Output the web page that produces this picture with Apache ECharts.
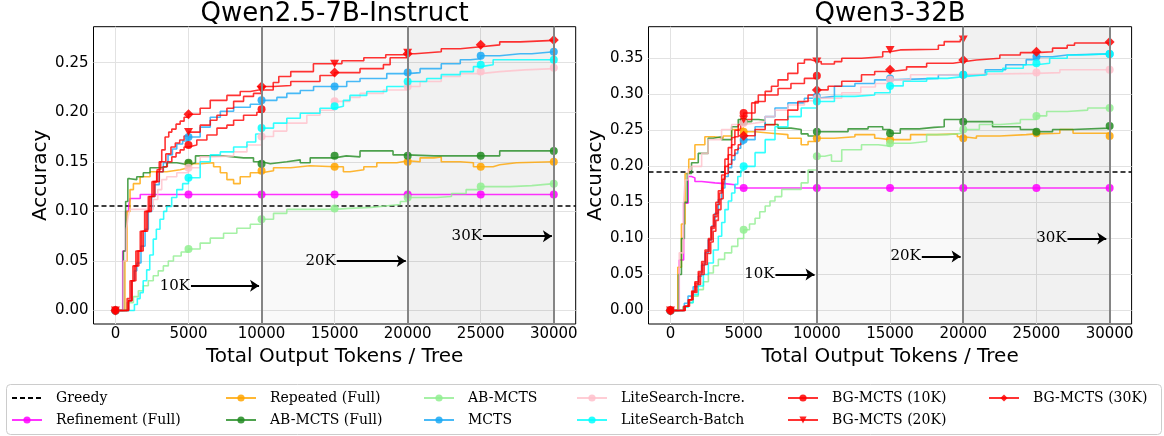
<!DOCTYPE html>
<html><head><meta charset="utf-8">
<script src="https://cdn.jsdelivr.net/npm/echarts@6/dist/echarts.min.js"></script>
<style>html,body{margin:0;padding:0;background:#fff}#c{width:1164px;height:436px}</style>
</head><body><div id="c"></div>
<script>
// ---------- data ----------
const titles = ['Qwen2.5-7B-Instruct', 'Qwen3-32B'];
const xTicks = [0, 5000, 10000, 15000, 20000, 25000, 30000];
const yTicksL = [0, 0.05, 0.10, 0.15, 0.20, 0.25];
const yTicksR = [0, 0.05, 0.10, 0.15, 0.20, 0.25, 0.30, 0.35];
const marks = [0, 5000, 10000, 15000, 20000, 25000, 30000];
const greedyL = 0.1055;
const greedyR = 0.192;

const L_refine = [[0,0],[300,0],[500,0.06],[700,0.1],[900,0.105],[1000,0.113],[1700,0.117],[5000,0.117],[10000,0.117],[15000,0.117],[20000,0.117],[25000,0.117],[30000,0.117]];
const L_repeated = [[0,0],[500,0],[650,0.05],[800,0.1],[1000,0.122],[1230,0.128],[1690,0.135],[2370,0.14],[3510,0.142],[4430,0.144],[5000,0.148],[5800,0.149],[6720,0.145],[7180,0.139],[7630,0.132],[8090,0.128],[8540,0.135],[9230,0.139],[10000,0.141],[10820,0.144],[12000,0.146],[13300,0.145],[15000,0.145],[15600,0.140],[16050,0.142],[17000,0.145],[17890,0.149],[19260,0.151],[20000,0.150],[20850,0.154],[21800,0.155],[22300,0.150],[23600,0.149],[24500,0.145],[25000,0.145],[25850,0.147],[26300,0.149],[27450,0.150],[30000,0.150]];
const L_abFull = [[0,0],[400,0],[550,0.06],[700,0.11],[850,0.133],[1000,0.132],[1460,0.135],[1910,0.139],[2370,0.144],[3060,0.145],[3510,0.149],[4200,0.147],[5000,0.149],[5480,0.156],[6490,0.156],[7400,0.154],[8770,0.154],[9450,0.150],[10000,0.148],[10600,0.150],[11730,0.152],[12650,0.149],[13330,0.154],[14000,0.154],[15000,0.156],[15800,0.155],[16740,0.161],[18800,0.161],[19000,0.157],[20000,0.156],[21800,0.156],[25000,0.156],[26300,0.161],[30000,0.161]];
const L_ab = [[0,0],[550,0],[800,0.008],[1230,0.014],[1570,0.02],[1910,0.025],[2250,0.03],[2590,0.035],[2930,0.04],[3280,0.045],[3620,0.05],[3970,0.055],[4500,0.059],[5000,0.062],[5800,0.068],[6490,0.073],[7400,0.078],[8310,0.083],[9230,0.087],[10000,0.092],[10820,0.098],[11730,0.102],[13100,0.102],[15000,0.103],[16000,0.104],[17500,0.106],[18800,0.107],[19500,0.110],[20000,0.114],[21000,0.114],[22000,0.115],[23000,0.118],[24000,0.122],[25000,0.125],[27000,0.126],[28500,0.128],[30000,0.128]];
const L_mcts = [[0,0],[700,0],[900,0.01],[1100,0.03],[1300,0.04],[1460,0.048],[1750,0.065],[2030,0.082],[2250,0.1],[2480,0.115],[2700,0.127],[3000,0.14],[3280,0.149],[3600,0.157],[3900,0.163],[4200,0.168],[4600,0.171],[5000,0.175],[5800,0.185],[6490,0.195],[7180,0.201],[8090,0.205],[9230,0.208],[10000,0.212],[11050,0.215],[11730,0.219],[12650,0.222],[13560,0.226],[15000,0.226],[15830,0.231],[16740,0.234],[18570,0.239],[20000,0.240],[20850,0.244],[22300,0.249],[23600,0.253],[24300,0.254],[25000,0.257],[26300,0.259],[27700,0.259],[28500,0.261],[30000,0.261]];
const L_liteIncre = [[0,0],[400,0],[550,0.05],[750,0.082],[880,0.095],[1000,0.102],[2140,0.102],[2590,0.112],[2900,0.122],[3170,0.132],[3510,0.135],[4200,0.139],[5000,0.144],[5800,0.155],[6490,0.156],[8090,0.160],[9000,0.167],[10000,0.1755],[10820,0.181],[11730,0.189],[13100,0.197],[14000,0.202],[15000,0.211],[16050,0.215],[16740,0.219],[18340,0.2225],[20000,0.226],[20850,0.231],[22300,0.236],[23600,0.239],[25000,0.241],[26300,0.2427],[28000,0.244],[30000,0.245]];
const L_liteBatch = [[0,0],[1000,0],[1300,0.006],[1500,0.012],[1690,0.018],[1900,0.03],[2140,0.041],[2350,0.056],[2590,0.072],[2800,0.082],[3050,0.092],[3300,0.1],[3510,0.105],[3850,0.114],[4200,0.122],[4600,0.128],[5000,0.134],[5800,0.15],[6490,0.157],[7180,0.16],[8090,0.165],[9000,0.17],[9600,0.178],[10000,0.184],[10820,0.189],[11730,0.194],[12650,0.199],[14000,0.204],[15000,0.206],[15600,0.212],[16050,0.217],[17200,0.221],[18570,0.226],[20000,0.231],[21300,0.234],[22300,0.238],[23600,0.241],[24500,0.246],[25000,0.248],[25850,0.253],[30000,0.253]];
const L_bg10 = [[0,0],[700,0],[900,0.01],[1150,0.03],[1400,0.045],[1600,0.06],[1900,0.08],[2200,0.1],[2450,0.115],[2700,0.13],[3000,0.14],[3260,0.145],[3550,0.15],[3860,0.155],[4150,0.159],[4430,0.162],[4700,0.165],[5000,0.167],[5570,0.172],[6260,0.177],[6950,0.184],[7630,0.187],[8090,0.192],[8770,0.197],[9680,0.2],[10000,0.203]];
const L_bg20 = [[0,0],[700,0],[900,0.01],[1100,0.03],[1300,0.045],[1500,0.06],[1800,0.08],[2100,0.1],[2350,0.115],[2600,0.13],[2850,0.142],[3100,0.15],[3450,0.158],[3800,0.165],[4100,0.169],[4400,0.172],[4700,0.176],[5000,0.18],[5800,0.187],[6490,0.192],[6950,0.197],[7630,0.204],[8090,0.211],[8770,0.216],[9450,0.219],[10000,0.2225],[10800,0.23],[11180,0.236],[12000,0.241],[13550,0.249],[15000,0.249],[15500,0.252],[17000,0.255],[18500,0.258],[20000,0.26]];
const L_bg30 = [[0,0],[600,0],[800,0.012],[1000,0.03],[1200,0.045],[1400,0.06],[1700,0.08],[2000,0.1],[2250,0.115],[2500,0.13],[2825,0.14],[3000,0.15],[3170,0.162],[3400,0.175],[3650,0.18],[3860,0.183],[4150,0.188],[4430,0.191],[4700,0.195],[5000,0.198],[5800,0.204],[6490,0.212],[7630,0.217],[8540,0.221],[9230,0.223],[10000,0.226],[10820,0.227],[12000,0.231],[14000,0.237],[15000,0.240],[16740,0.244],[18340,0.248],[18800,0.255],[20000,0.259],[20500,0.261],[22300,0.264],[23600,0.266],[25000,0.268],[26300,0.271],[27700,0.2725],[30000,0.273]];

const R_refine = [[0,0],[300,0],[600,0.07],[900,0.149],[1210,0.186],[1440,0.184],[1670,0.179],[2130,0.177],[3040,0.176],[3720,0.1745],[4400,0.17],[5000,0.17],[10000,0.17],[15000,0.17],[20000,0.17],[25000,0.17],[30000,0.17]];
const R_repeated = [[0,0],[250,0],[500,0.06],[750,0.12],[1000,0.19],[1250,0.21],[1670,0.23],[2350,0.241],[3000,0.239],[3600,0.242],[4180,0.251],[4630,0.253],[5000,0.248],[5780,0.246],[6900,0.244],[8020,0.239],[8930,0.23],[9400,0.2345],[10000,0.239],[11200,0.241],[12600,0.244],[13950,0.239],[14200,0.237],[15000,0.237],[16400,0.244],[18200,0.245],[19600,0.241],[20000,0.239],[20900,0.242],[22500,0.244],[24300,0.245],[25000,0.246],[26600,0.251],[27500,0.246],[30000,0.242]];
const R_abFull = [[0,0],[200,0],[550,0.05],[750,0.1],[950,0.15],[1150,0.19],[1440,0.205],[1900,0.218],[2580,0.239],[2920,0.241],[3490,0.237],[4180,0.255],[4630,0.265],[5000,0.262],[5550,0.265],[6000,0.264],[6470,0.258],[7350,0.253],[8230,0.251],[8930,0.245],[9400,0.242],[10000,0.248],[10990,0.248],[12130,0.252],[13500,0.255],[14500,0.251],[15000,0.246],[15700,0.252],[17000,0.254],[18000,0.255],[18700,0.265],[20000,0.262],[20900,0.262],[22000,0.255],[23900,0.251],[25000,0.248],[26100,0.251],[27500,0.253],[30000,0.256]];
const R_ab = [[0,0],[500,0],[850,0.005],[1210,0.011],[1550,0.02],[1900,0.029],[2250,0.04],[2590,0.052],[2930,0.062],[3270,0.071],[3700,0.08],[4180,0.089],[4600,0.1],[5000,0.112],[5400,0.12],[5780,0.128],[6100,0.137],[6470,0.145],[6800,0.152],[7140,0.158],[7600,0.168],[8500,0.168],[8930,0.177],[9400,0.195],[10000,0.214],[10540,0.216],[11000,0.207],[11700,0.223],[13050,0.23],[14200,0.228],[15000,0.232],[16400,0.2345],[17500,0.244],[18900,0.246],[20000,0.251],[21100,0.258],[22500,0.26],[23900,0.265],[25000,0.27],[25700,0.276],[27100,0.278],[28500,0.281],[30000,0.281]];
const R_mcts = [[0,0],[700,0],[950,0.01],[1200,0.02],[1550,0.033],[1900,0.0475],[2130,0.063],[2360,0.08],[2580,0.098],[2810,0.117],[3040,0.135],[3270,0.154],[3500,0.17],[3720,0.186],[3950,0.198],[4180,0.209],[4400,0.218],[4600,0.225],[4800,0.231],[5000,0.237],[5780,0.255],[6470,0.269],[7140,0.281],[8020,0.288],[9150,0.2945],[10000,0.297],[11200,0.311],[12600,0.315],[13950,0.32],[15000,0.322],[18300,0.327],[20000,0.327],[21500,0.334],[22900,0.341],[24300,0.348],[25000,0.352],[26100,0.3545],[27100,0.356],[30000,0.356]];
const R_liteIncre = [[0,0],[300,0],[600,0.08],[900,0.15],[1000,0.181],[1210,0.196],[1440,0.2],[2130,0.218],[2580,0.237],[3490,0.251],[4180,0.258],[5000,0.26],[5780,0.262],[6470,0.269],[7140,0.278],[8020,0.285],[9150,0.291],[10000,0.2945],[11700,0.302],[13000,0.31],[14000,0.315],[15000,0.32],[16400,0.327],[18700,0.329],[25000,0.33],[26600,0.334],[30000,0.334]];
const R_liteBatch = [[0,0],[700,0],[950,0.005],[1210,0.011],[1550,0.022],[1900,0.034],[2250,0.05],[2590,0.066],[2930,0.084],[3270,0.103],[3500,0.122],[3720,0.14],[3950,0.152],[4180,0.163],[4400,0.175],[4600,0.186],[4800,0.194],[5000,0.2],[5780,0.219],[6470,0.237],[7140,0.255],[8020,0.269],[8930,0.281],[10000,0.29],[11200,0.297],[12600,0.299],[13950,0.302],[15000,0.3116],[15900,0.318],[17500,0.322],[18900,0.3245],[20000,0.327],[21600,0.3315],[22700,0.336],[24100,0.341],[25000,0.343],[25900,0.35],[27100,0.3545],[28000,0.356],[30000,0.356]];
const R_bg10 = [[0,0],[600,0],[900,0.006],[1210,0.015],[1450,0.027],[1670,0.04],[1900,0.054],[2130,0.068],[2360,0.084],[2590,0.1],[2760,0.116],[2930,0.133],[3100,0.15],[3270,0.166],[3500,0.188],[3720,0.21],[3950,0.226],[4180,0.24],[4400,0.25],[4630,0.258],[4800,0.266],[5000,0.274],[5780,0.29],[6470,0.299],[7350,0.308],[8230,0.315],[9150,0.322],[10000,0.3255]];
const R_bg20 = [[0,0],[700,0],[1000,0.006],[1250,0.015],[1480,0.026],[1700,0.038],[1950,0.052],[2200,0.066],[2420,0.082],[2650,0.098],[2820,0.114],[3000,0.13],[3180,0.147],[3350,0.163],[3540,0.182],[3720,0.2],[3950,0.216],[4180,0.23],[4400,0.241],[4630,0.25],[4800,0.258],[5000,0.265],[5550,0.288],[6000,0.299],[6470,0.304],[6900,0.311],[7350,0.32],[8020,0.329],[8700,0.343],[9150,0.348],[9600,0.3453],[10000,0.3453],[10300,0.342],[11200,0.3453],[11700,0.35],[13050,0.352],[14500,0.359],[15000,0.3615],[15700,0.3624],[18300,0.368],[18700,0.373],[19800,0.376],[20000,0.376]];
const R_bg30 = [[0,0],[700,0],[1000,0.006],[1300,0.015],[1550,0.025],[1800,0.036],[2050,0.05],[2300,0.064],[2520,0.079],[2750,0.095],[2920,0.11],[3100,0.125],[3270,0.14],[3450,0.155],[3600,0.172],[3720,0.19],[3950,0.203],[4180,0.215],[4400,0.223],[4630,0.23],[4800,0.236],[5000,0.2424],[5780,0.251],[6470,0.2576],[7140,0.2646],[8020,0.278],[8700,0.29],[9400,0.299],[10000,0.306],[10770,0.311],[11700,0.318],[13050,0.327],[13950,0.3315],[15000,0.334],[16130,0.338],[17500,0.343],[19300,0.345],[20000,0.3476],[20900,0.35],[22500,0.3545],[23900,0.3577],[25000,0.359],[26100,0.364],[27100,0.368],[27600,0.371],[30000,0.3726]];

// ---------- styling ----------
const SANS = 'DejaVu Sans';
const SERIF = 'DejaVu Serif';
const DIAMOND = 'path://M5,0L10,5L5,10L0,5Z';
const TRI_DOWN = 'path://M0,0L10,0L5,8.66Z';

const defs = [
  {name:'Refinement (Full)', color:'#ff00ff', sym:'circle', size:8, L:L_refine, R:R_refine},
  {name:'Repeated (Full)', color:'#ffa500', sym:'circle', size:8, L:L_repeated, R:R_repeated},
  {name:'AB-MCTS (Full)', color:'#228b22', sym:'circle', size:8, L:L_abFull, R:R_abFull},
  {name:'AB-MCTS', color:'#90ee90', sym:'circle', size:8, L:L_ab, R:R_ab},
  {name:'MCTS', color:'#1aa9f5', sym:'circle', size:8, L:L_mcts, R:R_mcts},
  {name:'LiteSearch-Incre.', color:'#ffc0cb', sym:'circle', size:8, L:L_liteIncre, R:R_liteIncre},
  {name:'LiteSearch-Batch', color:'#00ffff', sym:'circle', size:8, L:L_liteBatch, R:R_liteBatch},
  {name:'BG-MCTS (10K)', color:'#ff0000', sym:'circle', size:8, L:L_bg10, R:R_bg10},
  {name:'BG-MCTS (20K)', color:'#ff0000', sym:TRI_DOWN, size:[9,8], L:L_bg20, R:R_bg20},
  {name:'BG-MCTS (30K)', color:'#ff0000', sym:DIAMOND, size:[10,10], L:L_bg30, R:R_bg30}
];

const grids = [
  {left:93.5, top:26.7, width:482.2, height:297.3, show:true, borderColor:'#000', borderWidth:1, backgroundColor:'transparent', containLabel:false, outerBoundsMode:'none'},
  {left:648.5, top:26.7, width:483.1, height:297.3, show:true, borderColor:'#000', borderWidth:1, backgroundColor:'transparent', containLabel:false, outerBoundsMode:'none'}
];

function xAxis(i){
  return {type:'value', gridIndex:i, min:-1500, max:31500,
    axisLine:{show:false, onZero:false}, axisTick:{show:false, customValues:xTicks},
    axisLabel:{customValues:xTicks, margin:3, fontSize:15, color:'#000', fontFamily:SANS, formatter:v=>String(v)},
    splitLine:{show:true, lineStyle:{color:'#e2e2e2', width:1}},
    name:'Total Output Tokens / Tree', nameLocation:'middle', nameGap:20,
    nameTextStyle:{fontSize:20, color:'#000', fontFamily:SANS}};
}
function yAxis(i, min, max, ticks){
  return {type:'value', gridIndex:i, min:min, max:max,
    axisLine:{show:false, onZero:false}, axisTick:{show:false, customValues:ticks},
    axisLabel:{customValues:ticks, margin:5, fontSize:15, color:'#000', fontFamily:SANS, formatter:v=>v.toFixed(2)},
    splitLine:{show:true, lineStyle:{color:'#e2e2e2', width:1}},
    name:'Accuracy', nameLocation:'middle', nameGap:40,
    nameTextStyle:{fontSize:20, color:'#000', fontFamily:SANS}};
}

const series = [];
function helpers(i, ann){
  series.push({type:'line', xAxisIndex:i, yAxisIndex:i, data:[], silent:true, z:1,
    markArea:{silent:true, data:[
      [{xAxis:10000, itemStyle:{color:'rgba(0,0,0,0.022)'}},{xAxis:20000}],
      [{xAxis:20000, itemStyle:{color:'rgba(0,0,0,0.055)'}},{xAxis:30000}]
    ]},
    markLine:{silent:true, symbol:'none', label:{show:false}, animation:false,
      lineStyle:{color:'#858585', width:2, type:'solid'},
      data:[{xAxis:10000},{xAxis:20000},{xAxis:30000}]}
  });
  series.push({type:'line', xAxisIndex:i, yAxisIndex:i, data:[], silent:true, z:1,
    markLine:{silent:true, symbol:['none','arrow'], symbolSize:9, animation:false,
      lineStyle:{color:'#000', width:1.8, type:'solid'},
      label:{show:true, position:'start', distance:1, color:'#000', fontFamily:SERIF, fontSize:15, formatter:p=>p.name},
      data: ann.map(a=>[{name:a[0], coord:[a[1], a[3]]},{coord:[a[2], a[3]]}])}
  });
}
helpers(0, [['10K',5170,9830,0.025],['20K',15150,19870,0.05],['30K',25150,29870,0.075]]);
helpers(1, [['10K',7170,9840,0.05],['20K',17170,19820,0.075],['30K',27120,29770,0.10]]);

[0,1].forEach(i=>{
  const g = i===0 ? greedyL : greedyR;
  series.push({name:'Greedy', type:'line', xAxisIndex:i, yAxisIndex:i, symbol:'none',
    data:[[-1500,g],[31500,g]], lineStyle:{color:'#000', width:1.5, type:[5,3]}, itemStyle:{color:'#000'}, z:3});
  defs.forEach(d=>{
    series.push({name:d.name, type:'line', xAxisIndex:i, yAxisIndex:i, step:'end',
      data: i===0 ? d.L : d.R,
      symbol:d.sym, showSymbol:true,
      symbolSize:(v)=> marks.indexOf(v[0])>=0 ? d.size : 0,
      lineStyle:{color:d.color, width:1.6, opacity:0.8},
      itemStyle:{color:d.color, opacity:0.85},
      emphasis:{disabled:true}, z:3});
  });
});

const legTxt = {fontFamily:SERIF, fontSize:14, color:'#000', lineHeight:16, padding:[0,0,0,9]};
const cols = [
  {x:11, items:[{name:'Greedy', itemStyle:{opacity:0}}, 'Refinement (Full)']},
  {x:225, items:['Repeated (Full)','AB-MCTS (Full)']},
  {x:423, items:['AB-MCTS','MCTS']},
  {x:576, items:['LiteSearch-Incre.','LiteSearch-Batch']},
  {x:787, items:['BG-MCTS (10K)','BG-MCTS (20K)']},
  {x:988, items:['BG-MCTS (30K)']}
];
const legends = cols.map(c=>({left:c.x, top:390, orient:'vertical', itemGap:6, itemWidth:30, itemHeight:9,
  padding:0, data:c.items, textStyle:legTxt, selectedMode:false}));

const option = {
  animation:false,
  backgroundColor:'#fff',
  grid: grids,
  xAxis:[xAxis(0), xAxis(1)],
  yAxis:[yAxis(0,-0.0136,0.2863,yTicksL), yAxis(1,-0.0187,0.3937,yTicksR)],
  legend: legends,
  graphic:[
    {type:'rect', z:-1, shape:{x:6.5, y:384.5, width:1155, height:50, r:4}, style:{fill:'#fff', stroke:'#cccccc', lineWidth:1}},
    {type:'text', x:334.6, y:14.5, style:{text:titles[0], align:'center', verticalAlign:'middle', fontSize:26, fontFamily:SANS, fill:'#000'}},
    {type:'text', x:890, y:14.5, style:{text:titles[1], align:'center', verticalAlign:'middle', fontSize:26, fontFamily:SANS, fill:'#000'}}
  ],
  series: series
};
const chart = echarts.init(document.getElementById('c'));
chart.setOption(option);
</script></body></html>
